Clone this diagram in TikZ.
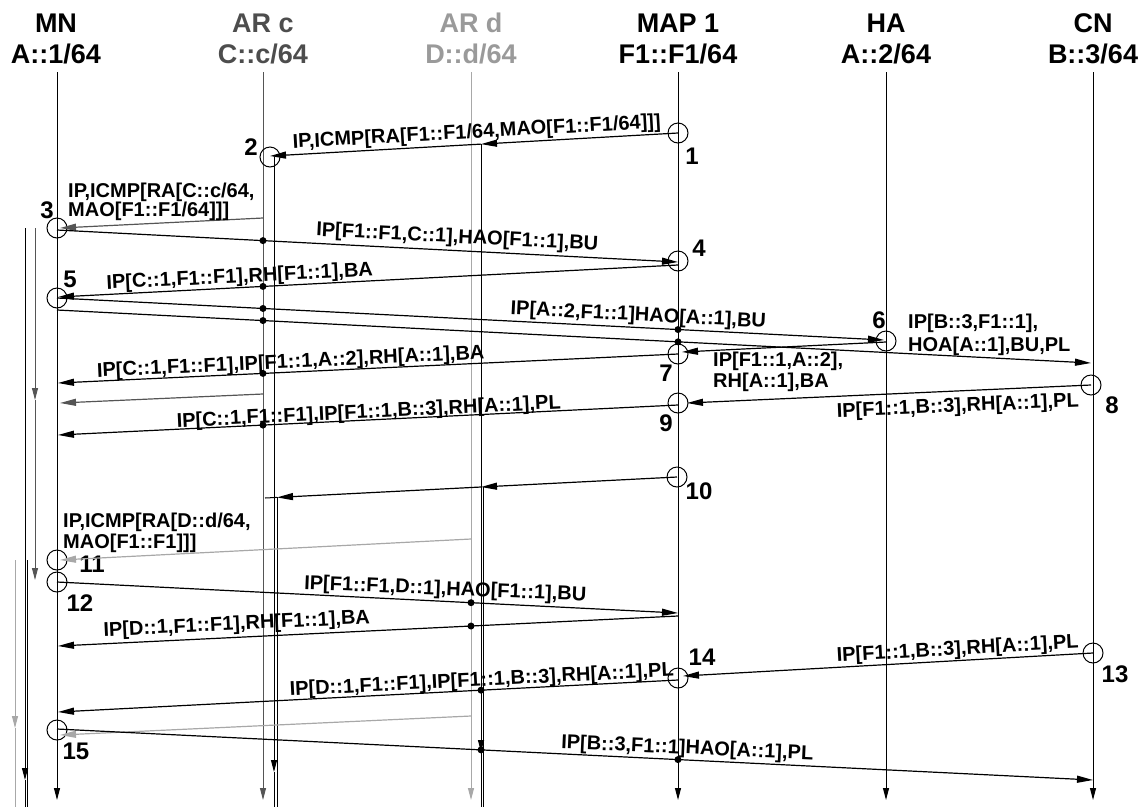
\documentclass[tikz,border=0pt]{standalone}
\usepackage{fontspec}
\setmainfont{Liberation Sans}
\usetikzlibrary{arrows.meta,calc}
\definecolor{gA}{HTML}{555555}
\definecolor{gB}{HTML}{A8A8A8}
\definecolor{gAtxt}{HTML}{4D4D4D}
\definecolor{gBtxt}{HTML}{9A9A9A}
\begin{document}
\begin{tikzpicture}[x=1pt,y=-1pt,
  hdr/.style={font=\fontsize{27}{27}\selectfont\bfseries, inner sep=0pt, anchor=base},
  lbl/.style={font=\fontsize{20}{20}\selectfont\bfseries, inner sep=0pt, anchor=base},
  lblw/.style={lbl, anchor=base west},
  num/.style={font=\fontsize{24}{24}\selectfont\bfseries, inner sep=0pt},
  evt/.style={circle, draw, minimum size=20pt, inner sep=0pt, line width=1pt},
  dotn/.style={circle, fill, minimum size=7pt, inner sep=0pt},
  lifeln/.style={line width=1pt, -{Triangle[length=12pt,width=6pt]}},
  plainln/.style={line width=1pt},
  msg/.style={line width=1.2pt, -{Triangle[length=16pt,width=7pt]}},
  msgA/.style={msg, gA},
  msgB/.style={msg, gB}]
\useasboundingbox (0,0) rectangle (1145,807);

% headers
\node[hdr] (hMNa) at (56,32) {MN};
\node[hdr] (hMNb) at (56,63) {A::1/64};
\node[hdr, gAtxt] (hARca) at (263,32) {AR c};
\node[hdr, gAtxt] (hARcb) at (263,63) {C::c/64};
\node[hdr, gBtxt] (hARda) at (471,32) {AR d};
\node[hdr, gBtxt] (hARdb) at (471,63) {D::d/64};
\node[hdr] (hMAPa) at (678,32) {MAP 1};
\node[hdr] (hMAPb) at (678,63) {F1::F1/64};
\node[hdr] (hHAa) at (886,32) {HA};
\node[hdr] (hHAb) at (886,63) {A::2/64};
\node[hdr] (hCNa) at (1093,32) {CN};
\node[hdr] (hCNb) at (1093,63) {B::3/64};

% lifelines
\foreach \n/\x in {mn/57, arc/263, ard/471, map/678, ha/886, cn/1093} {
  \coordinate (\n T) at (\x,72);
  \coordinate (\n B) at (\x,800);
}
\draw[lifeln] (mnT) -- (mnB);
\draw[lifeln, gA] (arcT) -- (arcB);
\draw[lifeln, gB] (ardT) -- (ardB);
\draw[lifeln] (mapT) -- (mapB);
\draw[lifeln] (haT) -- (haB);
\draw[lifeln] (cnT) -- (cnB);

% event circles
\node[evt] (e1) at (678,133) {};
\node[evt] (e2) at (270,157) {};
\node[evt] (e3) at (57,228) {};
\node[evt] (e4) at (678,261) {};
\node[evt] (e5) at (57,298) {};
\node[evt] (e6) at (886,341) {};
\node[evt] (e7) at (678,354) {};
\node[evt] (e8) at (1091,385) {};
\node[evt] (e9) at (678,403) {};
\node[evt] (e10) at (677,477) {};
\node[evt] (e11) at (57,560) {};
\node[evt] (e12) at (57,582) {};
\node[evt] (e13) at (1093,653) {};
\node[evt] (e14) at (678,678) {};
\node[evt] (e15) at (57,730) {};

% numbers
\node[num] (n1) at (692,156) {1};
\node[num] (n2) at (251,147) {2};
\node[num] (n3) at (47,210) {3};
\node[num] (n4) at (699,248) {4};
\node[num] (n5) at (70,279) {5};
\node[num] (n6) at (879,320) {6};
\node[num] (n7) at (666,373) {7};
\node[num] (n8) at (1112,405) {8};
\node[num] (n9) at (666,423) {9};
\node[num] (n10) at (699,491) {10};
\node[num] (n11) at (92,564) {11};
\node[num] (n12) at (80,603) {12};
\node[num] (n13) at (1115,674) {13};
\node[num] (n14) at (702,657) {14};
\node[num] (n15) at (76,751) {15};

% message end points
\coordinate (m1e) at (270,156);
\coordinate (m1d) at ($(e1.center)!0.4828!(m1e)$);
\coordinate (m2s) at (263,218);  \coordinate (m2e) at (60,228);
\coordinate (m3s) at (57,230);   \coordinate (m3e) at (678,262);
\coordinate (m4s) at (678,265);  \coordinate (m4e) at (58,297);
\coordinate (m5s) at (57,298);   \coordinate (m5e) at (884,340);
\coordinate (m6s) at (57,310);   \coordinate (m6e) at (1091,363);
\coordinate (m7s) at (886,342);  \coordinate (m7e) at (682,352);
\coordinate (m8s) at (678,354);  \coordinate (m8e) at (58,383);
\coordinate (m9s) at (263,394);  \coordinate (m9e) at (60,403);
\coordinate (m10s) at (1091,385); \coordinate (m10e) at (687,403);
\coordinate (m11s) at (678,405); \coordinate (m11e) at (58,435);
\coordinate (m12s) at (677,477); \coordinate (m12d) at (481,487);
\coordinate (m12c) at (277,497.4); \coordinate (m12e) at (265,498);
\coordinate (m13s) at (471,539); \coordinate (m13e) at (60,560);
\coordinate (m14s) at (57,582);  \coordinate (m14e) at (678,613);
\coordinate (m15s) at (678,616); \coordinate (m15e) at (58,646);
\coordinate (m16s) at (1093,653); \coordinate (m16e) at (683,676);
\coordinate (m17s) at (678,680); \coordinate (m17e) at (58,712);
\coordinate (m18s) at (471,716); \coordinate (m18e) at (60,735);
\coordinate (m19s) at (57,729);  \coordinate (m19e) at (1093,780);

% AR c / AR d black bearer lines
\coordinate (arcK1) at (274,157); \coordinate (arcK1a) at (274,772); \coordinate (arcK1b) at (274,807);
\coordinate (arcK2) at (277,497.4); \coordinate (arcK2b) at (277,807);
\coordinate (ardK1a) at ($(m1d)+(0,608)$); \coordinate (ardK1b) at ($(m1d)+(0,663)$);
\coordinate (ardK2) at (483.5,487); \coordinate (ardK2b) at (483.5,807);
\draw[lifeln] (arcK1) -- (arcK1a);
\draw[plainln] (arcK1a) -- (arcK1b);
\draw[plainln] (arcK2) -- (arcK2b);
\draw[lifeln] (m1d) -- (ardK1a);
\draw[plainln] (ardK1a) -- (ardK1b);
\draw[plainln] (ardK2) -- (ardK2b);

% MN side bearer lines
\coordinate (lk1) at (25,228); \coordinate (lk1a) at (25,780); \coordinate (lk1b) at (25,807);
\coordinate (lk2) at (27.5,560); \coordinate (lk2b) at (27.5,807);
\coordinate (lg1) at (35,228); \coordinate (lg1a) at (35,400); \coordinate (lg1b) at (35,580);
\coordinate (lg2) at (15,560); \coordinate (lg2a) at (15,728); \coordinate (lg2b) at (15,807);
\draw[lifeln] (lk1) -- (lk1a);
\draw[plainln] (lk1a) -- (lk1b);
\draw[plainln] (lk2) -- (lk2b);
\draw[lifeln, gA] (lg1) -- (lg1a);
\draw[lifeln, gA] (lg1a) -- (lg1b);
\draw[lifeln, gB] (lg2) -- (lg2a);
\draw[plainln, gB] (lg2a) -- (lg2b);

% messages
\draw[msg] (e1.center) -- (m1d);
\draw[msg] (m1d) -- (m1e);
\draw[msgA] (m2s) -- (m2e);
\draw[msg] (m3s) -- (m3e);
\draw[msg] (m4s) -- (m4e);
\draw[msg] (m5s) -- (m5e);
\draw[msg] (m6s) -- (m6e);
\draw[msg] (m7s) -- (m7e);
\draw[msg] (m8s) -- (m8e);
\draw[msgA] (m9s) -- (m9e);
\draw[msg] (m10s) -- (m10e);
\draw[msg] (m11s) -- (m11e);
\draw[msg] (m12s) -- (m12d);
\draw[msg] (m12d) -- (m12c);
\draw[plainln] (m12c) -- (m12e);
\draw[msgB] (m13s) -- (m13e);
\draw[msg] (m14s) -- (m14e);
\draw[msg] (m15s) -- (m15e);
\draw[msg] (m16s) -- (m16e);
\draw[msg] (m17s) -- (m17e);
\draw[msgB] (m18s) -- (m18e);
\draw[msg] (m19s) -- (m19e);

% crossing dots
\node[dotn] (d3) at ($(m3s)!0.3317!(m3e)$) {};
\node[dotn] (d4) at ($(m4s)!0.6694!(m4e)$) {};
\node[dotn] (d5a) at ($(m5s)!0.2491!(m5e)$) {};
\node[dotn] (d5b) at ($(m5s)!0.7509!(m5e)$) {};
\node[dotn] (d6a) at ($(m6s)!0.1992!(m6e)$) {};
\node[dotn] (d6b) at ($(m6s)!0.6006!(m6e)$) {};
\node[dotn] (d8) at ($(m8s)!0.6694!(m8e)$) {};
\node[dotn] (d11) at ($(m11s)!0.6694!(m11e)$) {};
\node[dotn] (d14) at ($(m14s)!0.6667!(m14e)$) {};
\node[dotn] (d15) at ($(m15s)!0.3339!(m15e)$) {};
\node[dotn] (d17) at ($(m17s)!0.3177!(m17e)$) {};
\node[dotn] (d19a) at ($(m19s)!0.4093!(m19e)$) {};
\node[dotn] (d19b) at ($(m19s)!0.5994!(m19e)$) {};

% labels
\node[lbl, rotate=3.2] (l1) at (477,138) {IP,ICMP[RA[F1::F1/64,MAO[F1::F1/64]]]};
\node[lblw] (l2a) at (68,197) {IP,ICMP[RA[C::c/64,};
\node[lblw] (l2b) at (68,216.5) {MAO[F1::F1/64]]]};
\node[lbl, rotate=-2.9] (l3) at (457,243) {IP[F1::F1,C::1],HAO[F1::1],BU};
\node[lbl, rotate=2.9] (l4) at (240,282.5) {IP[C::1,F1::F1],RH[F1::1],BA};
\node[lbl, rotate=-2.9] (l5) at (638,321) {IP[A::2,F1::1]HAO[A::1],BU};
\node[lblw] (l6a) at (908,328) {IP[B::3,F1::1],};
\node[lblw] (l6b) at (908,351.5) {HOA[A::1],BU,PL};
\node[lblw] (l7a) at (713,366.5) {IP[F1::1,A::2],};
\node[lblw] (l7b) at (713,387.5) {RH[A::1],BA};
\node[lbl, rotate=2.7] (l8) at (291,368) {IP[C::1,F1::F1],IP[F1::1,A::2],RH[A::1],BA};
\node[lbl, rotate=2.5] (l10) at (958,412) {IP[F1::1,B::3],RH[A::1],PL};
\node[lbl, rotate=2.8] (l11) at (369,418) {IP[C::1,F1::F1],IP[F1::1,B::3],RH[A::1],PL};
\node[lblw] (l13a) at (63,527) {IP,ICMP[RA[D::d/64,};
\node[lblw] (l13b) at (63,548) {MAO[F1::F1]]]};
\node[lbl, rotate=-2.4] (l14) at (445,595) {IP[F1::F1,D::1],HAO[F1::1],BU};
\node[lbl, rotate=2.8] (l15) at (237,630) {IP[D::1,F1::F1],RH[F1::1],BA};
\node[lbl, rotate=3.2] (l16) at (958,655) {IP[F1::1,B::3],RH[A::1],PL};
\node[lbl, rotate=2.9] (l17) at (482,686) {IP[D::1,F1::F1],IP[F1::1,B::3],RH[A::1],PL};
\node[lbl, rotate=-2.6] (l19) at (687,754) {IP[B::3,F1::1]HAO[A::1],PL};
\end{tikzpicture}
\end{document}
